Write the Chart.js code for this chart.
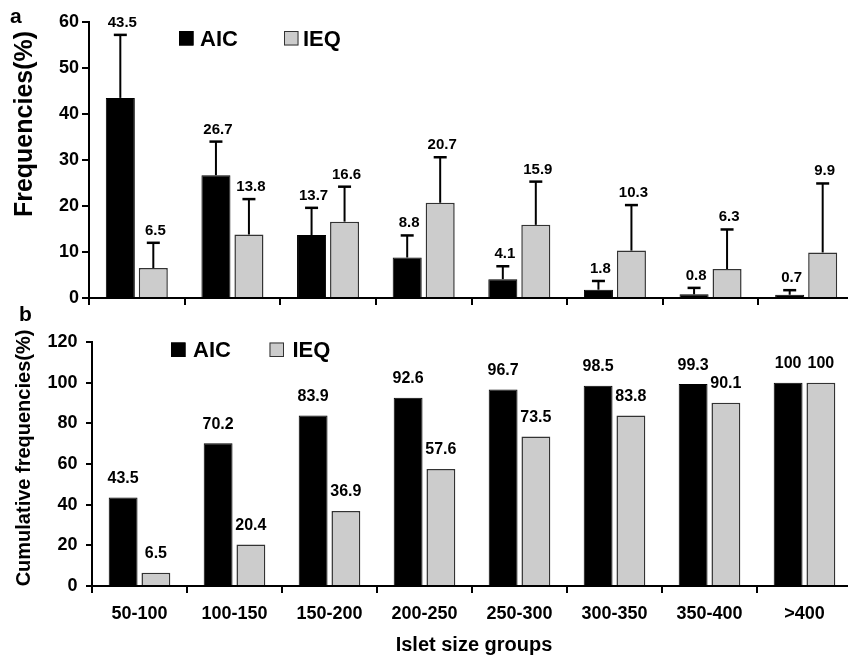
<!DOCTYPE html>
<html><head><meta charset="utf-8">
<script src="https://cdn.jsdelivr.net/npm/chart.js@4.4.0/dist/chart.umd.min.js"></script>
<style>
html,body{margin:0;padding:0;background:#fff;overflow:hidden;width:848px;height:663px;}
#wa{position:absolute;left:0;top:0;width:856px;height:320px;}
#wb{position:absolute;left:0;top:300px;width:856px;height:363px;}
canvas{display:block;}
</style></head><body>
<div id="wa"><canvas id="ca" width="856" height="320"></canvas></div>
<div id="wb"><canvas id="cb" width="856" height="363"></canvas></div>
<script>
// ---- data ----
const categories = ['50-100','100-150','150-200','200-250','250-300','300-350','350-400','>400'];
const seriesNames = ['AIC','IEQ'];
const aicFreq = [43.5,26.7,13.7,8.8,4.1,1.8,0.8,0.7];
const ieqFreq = [6.5,13.8,16.6,20.7,15.9,10.3,6.3,9.9];
const aicSD = [13.7,7.3,5.9,4.8,2.8,1.9,1.4,1.0];
const ieqSD = [5.5,7.7,7.6,9.9,9.4,9.9,8.6,15.0];
const aicCum = [43.5,70.2,83.9,92.6,96.7,98.5,99.3,100];
const ieqCum = [6.5,20.4,36.9,57.6,73.5,83.8,90.1,100];
const freqTicks = [0,10,20,30,40,50,60];
const cumTicks = [0,20,40,60,80,100,120];

const FONT = '"Liberation Sans", Arial, sans-serif';
const AIC_FILL = '#000000', IEQ_FILL = '#cccccc';

const decoPlugin = {
  id: 'deco',
  afterDatasetsDraw(chart, args, o) {
    const ctx = chart.ctx, ys = chart.scales.y;
    ctx.save();
    chart.data.datasets.forEach((ds, di) => {
      const meta = chart.getDatasetMeta(di);
      meta.data.forEach((bar, i) => {
        const v = ds.data[i];
        let topY = bar.y;
        if (ds.errors) {
          topY = ys.getPixelForValue(v + ds.errors[i]);
          ctx.strokeStyle = '#000'; ctx.lineWidth = 2;
          ctx.beginPath();
          ctx.moveTo(bar.x, bar.y); ctx.lineTo(bar.x, topY);
          ctx.stroke();
          ctx.lineWidth = 2.5;
          ctx.beginPath();
          ctx.moveTo(bar.x - 6.5, topY); ctx.lineTo(bar.x + 6.5, topY);
          ctx.stroke();
        }
        ctx.fillStyle = '#000';
        ctx.font = 'bold ' + o.labelSize + 'px ' + FONT;
        ctx.textAlign = 'center'; ctx.textBaseline = 'alphabetic';
        ctx.fillText(String(v), bar.x + o.labelDx, topY - o.labelGap);
      });
    });
    ctx.restore();
  },
  afterDraw(chart, args, o) {
    const ctx = chart.ctx;
    ctx.save();
    ctx.fillStyle = '#000';
    ctx.textBaseline = 'alphabetic';
    ctx.font = 'bold 21px ' + FONT; ctx.textAlign = 'left';
    ctx.fillText(o.letter.text, o.letter.x, o.letter.y);
    ctx.save();
    ctx.translate(o.yTitle.x, o.yTitle.y); ctx.rotate(-Math.PI/2);
    ctx.font = 'bold ' + o.yTitle.size + 'px ' + FONT; ctx.textAlign = 'center';
    ctx.fillText(o.yTitle.text, 0, 0);
    ctx.restore();
    if (o.xTitle) {
      ctx.font = 'bold 20px ' + FONT; ctx.textAlign = 'center';
      ctx.fillText(o.xTitle.text, o.xTitle.x, o.xTitle.y);
    }
    const L = o.legend;
    chart.data.datasets.forEach((ds, di) => {
      ctx.fillStyle = ds.backgroundColor;
      ctx.fillRect(L.boxX[di], L.boxY, L.box, L.box);
      ctx.strokeStyle = ds.borderColor; ctx.lineWidth = 1;
      ctx.strokeRect(L.boxX[di] + 0.5, L.boxY + 0.5, L.box - 1, L.box - 1);
      ctx.fillStyle = '#000';
      ctx.font = 'bold 22px ' + FONT; ctx.textAlign = 'left';
      ctx.fillText(ds.label, L.textX[di], L.textY);
    });
    ctx.restore();
  }
};

function makeChart(id, aVals, bVals, errs, tickVals, cfg) {
  return new Chart(document.getElementById(id), {
    type: 'bar',
    data: {
      labels: categories,
      datasets: [
        { label: seriesNames[0], data: aVals, errors: errs ? errs[0] : null,
          backgroundColor: AIC_FILL, borderColor: '#000', borderWidth: 1 },
        { label: seriesNames[1], data: bVals, errors: errs ? errs[1] : null,
          backgroundColor: IEQ_FILL, borderColor: '#333', borderWidth: 1.5 }
      ]
    },
    options: {
      responsive: false, animation: false, events: [],
      categoryPercentage: 0.69, barPercentage: 0.88,
      layout: { padding: { top: cfg.top, right: cfg.right, left: 0, bottom: 0 } },
      plugins: { legend: { display: false }, tooltip: { enabled: false }, deco: cfg.deco },
      scales: {
        x: {
          afterFit: s => { s.height = cfg.xh; },
          grid: { offset: true, drawOnChartArea: false, drawTicks: true, tickLength: 7, color: '#000', lineWidth: 2 },
          border: { display: true, color: '#000', width: 2 },
          ticks: { display: cfg.xlabels, color: '#000', padding: 10, maxRotation: 0, autoSkip: false,
                   font: { family: FONT, size: 18, weight: 'bold' } }
        },
        y: {
          min: tickVals[0], max: tickVals[tickVals.length - 1],
          afterFit: s => { s.width = cfg.yw; },
          afterBuildTicks: s => { s.ticks = tickVals.map(v => ({ value: v })); },
          grid: { drawOnChartArea: false, drawTicks: true, tickLength: cfg.ytl, color: '#000', lineWidth: 2 },
          border: { display: true, color: '#000', width: 2 },
          ticks: { color: '#000', padding: cfg.ypad, font: { family: FONT, size: 18, weight: 'bold' } }
        }
      }
    },
    plugins: [decoPlugin]
  });
}

makeChart('ca', aicFreq, ieqFreq, [aicSD, ieqSD], freqTicks, {
  top: 22, right: 2, xh: 22, yw: 89, ytl: 7, ypad: 3, xlabels: false,
  deco: {
    labelSize: 15, labelGap: 8, labelDx: 2,
    letter: { text: 'a', x: 10, y: 23 },
    yTitle: { text: 'Frequencies(%)', x: 31.5, y: 124, size: 25 },
    xTitle: null,
    legend: { boxX: [179, 284], textX: [200, 303], boxY: 31, box: 14.5, textY: 45.5 }
  }
});

makeChart('cb', aicCum, ieqCum, null, cumTicks, {
  top: 42, right: 4, xh: 77, yw: 92, ytl: 6, ypad: 8.5, xlabels: true,
  deco: {
    labelSize: 16, labelGap: 14.5, labelDx: 0,
    letter: { text: 'b', x: 19, y: 21 },
    yTitle: { text: 'Cumulative frequencies(%)', x: 30, y: 158, size: 20 },
    xTitle: { text: 'Islet size groups', x: 474, y: 351 },
    legend: { boxX: [171, 269.5], textX: [193, 292.5], boxY: 42.5, box: 14.5, textY: 57 }
  }
});
</script>
</body></html>
